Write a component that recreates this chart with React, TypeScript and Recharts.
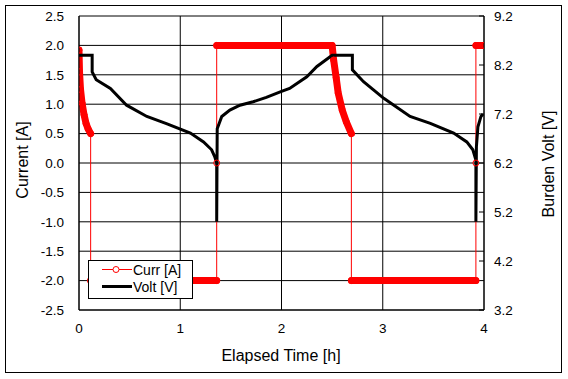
import React from 'react';
import { ComposedChart, Line, XAxis, YAxis, CartesianGrid } from 'recharts';

document.body.style.margin = '0';

const FONT = '"Liberation Sans", Arial, sans-serif';

const timeTicks = [0, 1, 2, 3, 4];
const currentTicks = [-2.5, -2, -1.5, -1, -0.5, 0, 0.5, 1, 1.5, 2, 2.5];
const voltTicks = [3.2, 4.2, 5.2, 6.2, 7.2, 8.2, 9.2];

// Curr [A] against elapsed time [h]
const currTime = [
  0, 0.005, 0.015, 0.03, 0.05, 0.07, 0.09, 0.115, 0.115, 1.36, 1.36, 1.36, 2.5, 2.515, 2.54,
  2.56, 2.6, 2.64, 2.69, 2.69, 3.92, 3.92, 3.92, 3.99,
];
const currValue = [
  1.92, 1.55, 1.25, 1.02, 0.82, 0.67, 0.58, 0.5, -2, -2, 0, 2, 2, 1.75, 1.45, 1.19, 0.9, 0.7,
  0.5, -2, -2, 0, 2, 2,
];

// Volt [V] against elapsed time [h]
const voltTime = [
  0, 0.13, 0.13, 0.17, 0.31, 0.47, 0.67, 0.87, 1.1, 1.23, 1.31, 1.34, 1.36, 1.36, 1.365, 1.41,
  1.49, 1.59, 1.72, 1.85, 2.0, 2.08, 2.25, 2.35, 2.5, 2.7, 2.7, 2.81, 3.01, 3.27, 3.47, 3.7, 3.83,
  3.89, 3.92, 3.92, 3.925, 3.94, 3.97, 3.99,
];
const voltValue = [
  8.4, 8.4, 8.06, 7.9, 7.72, 7.38, 7.15, 7.0, 6.81, 6.63, 6.47, 6.33, 6.2, 5.0, 6.9, 7.15, 7.28,
  7.38, 7.45, 7.54, 7.66, 7.72, 7.96, 8.17, 8.4, 8.4, 8.1, 7.86, 7.52, 7.15, 7.01, 6.81, 6.63,
  6.47, 6.26, 5.0, 6.53, 6.94, 7.15, 7.2,
];

const currData = currTime.map((t, i) => ({ t, a: currValue[i] }));
const voltData = voltTime.map((t, i) => ({ t, v: voltValue[i] }));

// densely logged stretches (no vertical steps) are drawn as a thick band
const bandData: { t: number; a: number | null }[] = [];
let run: { t: number; a: number }[] = [];
const flush = () => {
  if (run.length > 1) {
    if (bandData.length) bandData.push({ t: run[0].t, a: null });
    bandData.push(...run);
  }
  run = [];
};
currData.forEach((p, i) => {
  if (i > 0 && currData[i - 1].t === p.t) flush();
  run.push(p);
});
flush();

const tickStyle = { fill: '#000', fontSize: 13.5, fontFamily: FONT };

const VoltTick = (props: any) => {
  const { x, y, payload } = props;
  return (
    <g>
      <line x1={x - 15} x2={x - 10} y1={y} y2={y} stroke="#000" />
      <text x={x} y={y} dy="0.35em" textAnchor="start" {...tickStyle}>
        {Number(payload.value).toFixed(1)}
      </text>
    </g>
  );
};

const App: React.FC = () => {
  return (
    <div style={{ position: 'relative', width: 568, height: 379, background: '#fff' }}>
      <ComposedChart
        width={568}
        height={379}
        margin={{ top: 16, right: 24, bottom: 39, left: 19 }}
      >
        <CartesianGrid stroke="#000" yAxisId="left" verticalPoints={undefined} />
        <XAxis
          type="number"
          dataKey="t"
          domain={[0, 4]}
          ticks={timeTicks}
          interval={0}
          height={30}
          tickLine={false}
          tickSize={0}
          tickMargin={13}
          axisLine={{ stroke: '#000' }}
          tick={tickStyle}
          allowDataOverflow
        />
        <YAxis
          yAxisId="left"
          type="number"
          domain={[-2.5, 2.5]}
          ticks={currentTicks}
          interval={0}
          width={60}
          tickLine={false}
          tickSize={0}
          tickMargin={15}
          axisLine={{ stroke: '#000' }}
          tick={tickStyle}
          tickFormatter={(v: number) => v.toFixed(1)}
        />
        <YAxis
          yAxisId="right"
          orientation="right"
          type="number"
          domain={[3.2, 9.2]}
          ticks={voltTicks}
          interval={0}
          width={60}
          tickLine={false}
          tickSize={0}
          tickMargin={10}
          axisLine={{ stroke: '#000' }}
          tick={<VoltTick />}
        />
        <Line
          yAxisId="left"
          data={currData}
          dataKey="a"
          type="linear"
          stroke="#ff0000"
          strokeWidth={1}
          dot={{ r: 3, stroke: '#ff0000', strokeWidth: 1, fill: 'none' }}
          isAnimationActive={false}
        />
        <Line
          yAxisId="left"
          data={bandData}
          dataKey="a"
          type="linear"
          stroke="#ff0000"
          strokeWidth={7}
          strokeLinecap="round"
          strokeLinejoin="round"
          dot={false}
          activeDot={false}
          legendType="none"
          isAnimationActive={false}
        />
        <Line
          yAxisId="right"
          data={voltData}
          dataKey="v"
          type="linear"
          stroke="#000"
          strokeWidth={3}
          dot={false}
          isAnimationActive={false}
        />
      </ComposedChart>
      <svg
        width={568}
        height={379}
        style={{ position: 'absolute', left: 0, top: 0, pointerEvents: 'none' }}
        fontFamily={FONT}
      >
        <rect x={5.5} y={5.5} width={556} height={367} fill="none" stroke="#000" />
        <text
          x={22}
          y={160}
          fontSize={16}
          textAnchor="middle"
          dominantBaseline="central"
          transform="rotate(-90 22 160)"
        >
          Current [A]
        </text>
        <text
          x={548}
          y={164}
          fontSize={16}
          textAnchor="middle"
          dominantBaseline="central"
          transform="rotate(-90 548 164)"
        >
          Burden Volt [V]
        </text>
        <text x={281} y={355} fontSize={16} textAnchor="middle" dominantBaseline="central">
          Elapsed Time [h]
        </text>
        <rect x={88.5} y={260.5} width={104} height={38} fill="#fff" stroke="#000" />
        <line x1={102} x2={132} y1={269.5} y2={269.5} stroke="#ff0000" />
        <circle cx={116} cy={269.5} r={3} fill="#fff" stroke="#ff0000" />
        <text x={133} y={270} fontSize={14} dominantBaseline="central">
          Curr [A]
        </text>
        <line x1={102} x2={132} y1={286.5} y2={286.5} stroke="#000" strokeWidth={3} />
        <text x={133} y={287} fontSize={14} dominantBaseline="central">
          Volt [V]
        </text>
      </svg>
    </div>
  );
};

export default App;
